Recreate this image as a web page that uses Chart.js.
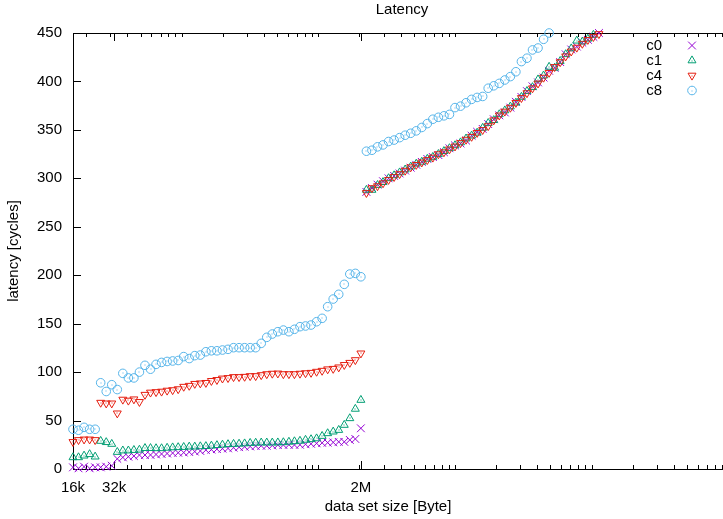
<!DOCTYPE html>
<meta charset="utf-8">
<style>
	body { margin: 0; overflow: hidden; background: #fff; }
	#wrap { position: relative; width: 740px; height: 519px; }
</style>
<body>

	<script src="https://cdn.jsdelivr.net/npm/chart.js@4.4.0/dist/chart.umd.min.js"></script>

	<div id="wrap">
		<canvas id="latChart"></canvas>
	</div>

	<script>
		// data set size in KB, one entry per measurement (shared by all series)
		var sizes = [16, 17.56, 19.28, 21.17, 23.24, 25.51, 28.01, 30.75, 33.75, 37.05,
			40.68, 44.66, 49.02, 53.82, 59.08, 64.86, 71.2, 78.17, 85.81, 94.2,
			103.4, 113.5, 124.6, 136.8, 150.2, 164.9, 181, 198.7, 218.2, 239.5,
			262.9, 288.6, 316.9, 347.8, 381.9, 419.2, 460.2, 505.2, 554.6, 608.9,
			668.4, 733.8, 805.6, 884.3, 970.8, 1065.8, 1170, 1284.4, 1410, 1548,
			1699.3, 1865.5, 2048,
			2248, 2468, 2710, 2975, 3265, 3585, 3935, 4320, 4743, 5207,
			5716, 6275, 6889, 7562, 8302, 9114, 10005, 10984, 12058, 13237,
			14532, 15953, 17513, 19226, 21106, 23170, 25436, 27924, 30655, 33653,
			36944, 40557, 44524, 48878, 53658, 58906, 64667, 70992, 77935, 85557,
			93924, 103110, 113194];

		// latency in cycles
		var c0 = [1.7, 0.7, 2.4, 0.7, 1.7, 1.7, 2.4, 3.4, 10.5, 12, 12.7, 13.4, 14.4, 14.4, 14.5,
			15, 15.5, 16, 16.5, 16.8, 17, 17.5, 18, 18.6, 19.6, 20, 20.5, 21, 21.3, 22,
			22.5, 23, 23.3, 23.7, 24, 24, 24.3, 24.8, 24.8, 25, 24.8, 25, 25.5, 26, 26.5,
			27, 27.2, 27.5, 28, 28, 30, 31, 42,
			286, 290, 293.5, 297, 300, 302.5, 305, 308, 311, 314, 317, 320, 322, 324, 327,
			331, 334, 336, 339, 344, 348, 351, 356, 361, 365, 368, 373, 379, 384, 390,
			395, 399, 404, 411, 414, 420, 428, 433, 436, 440, 443, 446, 450];
		var c1 = [12, 12, 13.7, 15.2, 12.7, 28.9, 27.6, 25.8, 17.5, 19, 19, 19.5, 19.8, 21.5, 21.5,
			21.3, 21.3, 21.8, 22.2, 22.4, 22.6, 23, 23, 23.3, 23.5, 24, 24.5, 25, 25.5, 25.8,
			26, 26.3, 26.8, 27, 27.2, 27.2, 27.2, 27.3, 27.5, 28, 28.5, 29, 30, 30.6, 31.5,
			34, 36.8, 38.5, 40.2, 45.4, 52.3, 62, 71.2,
			288, 288, 293, 296, 300, 303, 306, 309, 312, 315, 317, 320, 322, 325, 328,
			331, 334, 337, 341, 344, 347, 352, 357, 360, 366, 370, 374, 378, 384, 390,
			394, 402, 406, 415, 414, 421, 428, 434, 442, 441, 444, 448];
		var c4 = [28, 30, 30.6, 30.6, 30, 68.5, 67.8, 67.8, 57.5, 71.7, 70.7, 72, 69.3, 76.7, 79,
			79.5, 80, 81, 81.5, 82.5, 85, 86, 88, 88.5, 89, 91, 92, 93.5, 94, 95,
			95, 95.3, 96, 96, 97, 98, 98.5, 98.7, 98, 98, 98, 98.5, 99, 99.4, 100.5,
			101.5, 103, 103.5, 105, 107.5, 109.7, 112.5, 119.4,
			285, 290, 292, 295, 298.5, 301.5, 304.5, 308, 311.5, 314, 316.5, 319, 321.5, 325, 327,
			330, 333, 336.5, 340, 343, 347, 350, 354, 360, 365, 369, 373, 378, 383, 388,
			393, 398, 404, 409, 415, 420, 426, 431, 435, 439, 443, 446, 449];
		var c8 = [41, 40, 43, 41, 41, 89, 80, 87, 82, 98.7, 94, 94, 100, 107, 103,
			108, 110, 111, 111.5, 112, 116, 114, 117, 117.6, 121, 122, 122, 122.8, 123.5, 125.2,
			125.2, 125.2, 125.2, 125.2, 129.7, 135.9, 139.3, 141.7, 143.4, 141.7, 144.2, 146.9, 147.6, 148.6, 152,
			155.5, 167.5, 175.4, 180.3, 190.6, 201.2, 201.9, 198.4,
			328, 329, 332.5, 334.5, 338, 339.5, 342, 344.5, 346.5, 349, 352.5, 356.5, 361, 363, 364.5,
			366, 373, 374.5, 378, 381.5, 383.5, 384.5, 393, 395.5, 398, 401.5, 405, 410, 420.5, 424,
			432.5, 434.5, 443.5, 450];

		var seriesNames = ["c0", "c1", "c4", "c8"];

		// x axis: labelled ticks plus log minor ticks (KB)
		var xTickVals = [16, 32, 2048];
		var xTickText = ["16k", "32k", "2M"];
		var xMinorVals = [20, 30, 40, 50, 60, 70, 80, 90, 100, 200, 300, 400, 500, 600, 700, 800, 900,
			1000, 2000, 3000, 4000, 5000, 6000, 7000, 8000, 9000, 10000, 20000, 30000, 40000, 50000,
			60000, 70000, 80000, 90000, 100000, 200000, 300000, 400000, 500000, 600000, 700000,
			800000, 900000, 1000000];
		var yTickVals = [0, 50, 100, 150, 200, 250, 300, 350, 400, 450];

		var FONT = "'Liberation Sans', Arial, sans-serif";
		var FSIZE = 15;

		function toPoints(ys) {
			var pts = [];
			for (var i = 0; i < ys.length; i++) {
				pts.push({ x: sizes[i], y: ys[i] });
			}
			return pts;
		}

		function makeSet(label, ys, color, style, radius, rotation, order) {
			return {
				label: label,
				data: toPoints(ys),
				showLine: false,
				borderColor: color,
				backgroundColor: 'rgba(0,0,0,0)',
				pointStyle: style,
				pointRadius: radius,
				pointHoverRadius: radius,
				pointRotation: rotation,
				pointBorderWidth: 1,
				order: order,
				clip: false
			};
		}

		var datasets = [
			makeSet(seriesNames[0], c0, '#9400d3', 'crossRot', 5.5, 0, 3),
			makeSet(seriesNames[1], c1, '#009e73', 'triangle', 4.6, 0, 2),
			makeSet(seriesNames[2], c4, '#e51e10', 'triangle', 4.6, 180, 1),
			makeSet(seriesNames[3], c8, '#56b4e9', 'circle', 4.3, 0, 0)
		];

		// frame and inward gnuplot style ticks
		var framePlugin = {
			id: 'frame',
			beforeDatasetsDraw: function(chart) {
				var ctx = chart.ctx, a = chart.chartArea;
				var xs = chart.scales.x, ys = chart.scales.y;
				ctx.save();
				ctx.strokeStyle = '#000';
				ctx.lineWidth = 1;
				ctx.strokeRect(Math.round(a.left) + 0.5, Math.round(a.top) + 0.5,
					Math.round(a.right - a.left), Math.round(a.bottom - a.top));
				ctx.beginPath();
				var all = xTickVals.concat(xMinorVals);
				all.forEach(function(v) {
					var len = xTickVals.indexOf(v) >= 0 ? 8 : 4;
					var px = Math.round(xs.getPixelForValue(v)) + 0.5;
					ctx.moveTo(px, a.bottom);
					ctx.lineTo(px, a.bottom - len);
					ctx.moveTo(px, a.top);
					ctx.lineTo(px, a.top + len);
				});
				yTickVals.forEach(function(v) {
					var py = Math.round(ys.getPixelForValue(v)) + 0.5;
					ctx.moveTo(a.left, py);
					ctx.lineTo(a.left + 8, py);
				});
				ctx.stroke();
				ctx.restore();
			},
			afterDatasetsDraw: function(chart) {
				// small centre dot inside the open symbols
				var ctx = chart.ctx;
				ctx.save();
				chart.data.datasets.forEach(function(ds, di) {
					if (ds.pointStyle === 'crossRot') return;
					ctx.fillStyle = ds.borderColor;
					chart.getDatasetMeta(di).data.forEach(function(el) {
						ctx.fillRect(Math.round(el.x) - 0.5, Math.round(el.y) - 0.5, 1, 1);
					});
				});
				ctx.restore();
			},
			afterDraw: function(chart) {
				var ctx = chart.ctx, a = chart.chartArea;
				ctx.save();
				ctx.fillStyle = '#000';
				ctx.font = FSIZE + 'px ' + FONT;
				ctx.textBaseline = 'middle';
				ctx.textAlign = 'center';
				ctx.fillText('Latency', (a.left + a.right) / 2, 10);
				ctx.fillText('data set size [Byte]', 388, 507);
				ctx.save();
				ctx.translate(14, (a.top + a.bottom) / 2);
				ctx.rotate(-Math.PI / 2);
				ctx.fillText('latency [cycles]', 0, 0);
				ctx.restore();

				// key, gnuplot style: text then symbol
				ctx.textAlign = 'right';
				chart.data.datasets.forEach(function(ds, i) {
					var yy = 45.5 + i * 15;
					ctx.fillStyle = '#000';
					ctx.fillText(ds.label, 662, yy);
					if (Chart.helpers && Chart.helpers.drawPoint) {
						ctx.strokeStyle = ds.borderColor;
						ctx.fillStyle = 'rgba(0,0,0,0)';
						ctx.lineWidth = 1;
						Chart.helpers.drawPoint(ctx, {
							pointStyle: ds.pointStyle,
							radius: ds.pointRadius,
							rotation: ds.pointRotation,
							borderWidth: 1
						}, 692, yy);
						if (ds.pointStyle !== 'crossRot') {
							ctx.fillStyle = ds.borderColor;
							ctx.fillRect(691.5, Math.round(yy) - 0.5, 1, 1);
						}
					}
				});
				ctx.restore();
			}
		};

		var ctxLat = document.getElementById("latChart");

		var latChart = new Chart(ctxLat, {
			type: 'scatter',
			data: { datasets: datasets },
			options: {
				responsive: true,
				maintainAspectRatio: false,
				animation: false,
				layout: { padding: { top: 33, right: 9, bottom: 0, left: 0 } },
				plugins: {
					legend: { display: false },
					tooltip: { enabled: false }
				},
				scales: {
					x: {
						type: 'logarithmic',
						min: 16,
						max: 1048576,
						grid: { display: false, drawTicks: false },
						border: { display: false },
						afterBuildTicks: function(scale) {
							scale.ticks = xTickVals.concat(xMinorVals).sort(function(a, b) { return a - b; })
								.map(function(v) { return { value: v }; });
						},
						afterFit: function(scale) { scale.height = 50; },
						ticks: {
							autoSkip: false,
							maxRotation: 0,
							padding: 10,
							color: '#000',
							font: { family: FONT, size: FSIZE },
							callback: function(v) {
								var k = xTickVals.indexOf(v);
								return k >= 0 ? xTickText[k] : '';
							}
						}
					},
					y: {
						min: 0,
						max: 450,
						grid: { display: false, drawTicks: false },
						border: { display: false },
						afterFit: function(scale) { scale.width = 73; },
						ticks: {
							stepSize: 50,
							padding: 11,
							color: '#000',
							font: { family: FONT, size: FSIZE }
						}
					}
				}
			},
			plugins: [framePlugin]
		});
	</script>
</body>
